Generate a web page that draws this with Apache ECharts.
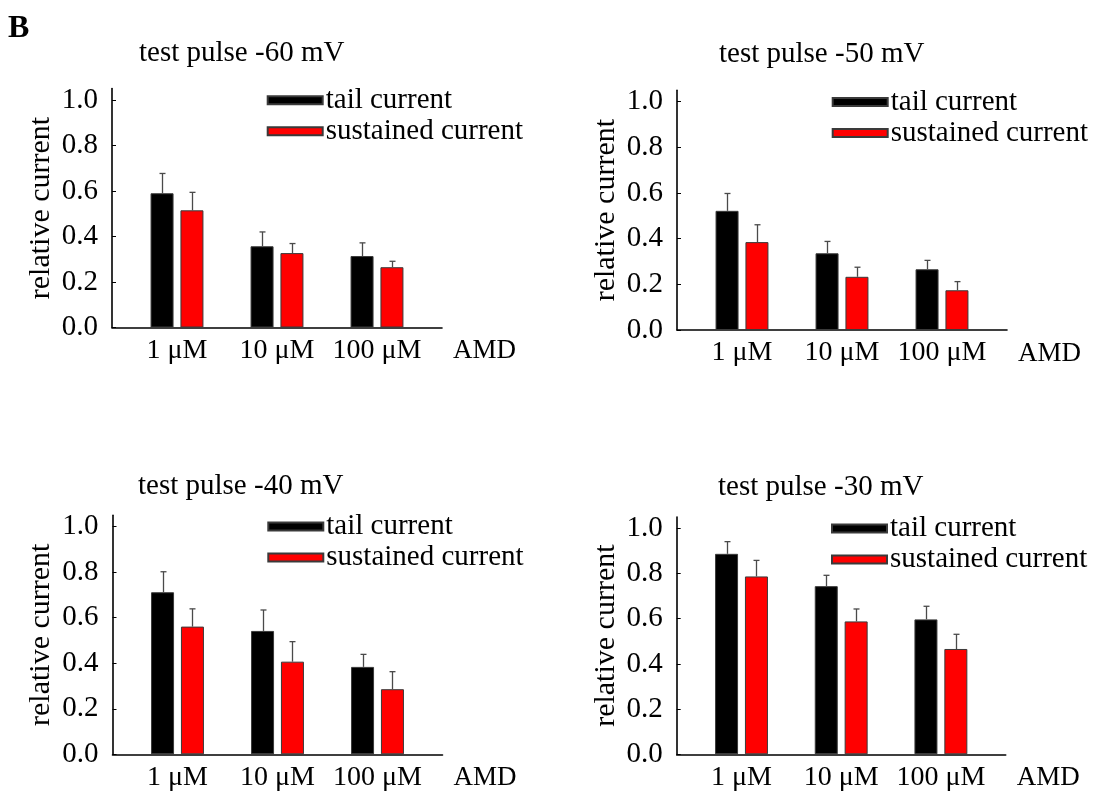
<!DOCTYPE html>
<html><head><meta charset="utf-8">
<script src="https://cdn.jsdelivr.net/npm/echarts@6/dist/echarts.min.js"></script>
<style>html,body{margin:0;padding:0;background:#fff}#c{width:1100px;height:797px}</style>
</head><body><div id="c"></div>
<script>
// ---- data ----
const categories = ['1 μM', '10 μM', '100 μM'];
const yTicks = [0, 0.2, 0.4, 0.6, 0.8, 1.0];
const panelTitles = ['test pulse -60 mV', 'test pulse -50 mV', 'test pulse -40 mV', 'test pulse -30 mV'];
const seriesNames = ['tail current', 'sustained current'];
const xAxisName = 'AMD';
const yAxisName = 'relative current';

const tail60 = [0.590, 0.357, 0.314], tail60Err = [0.087, 0.063, 0.058];
const sus60  = [0.515, 0.327, 0.265], sus60Err  = [0.079, 0.042, 0.026];
const tail50 = [0.522, 0.336, 0.266], tail50Err = [0.076, 0.052, 0.039];
const sus50  = [0.385, 0.233, 0.174], sus50Err  = [0.076, 0.042, 0.038];
const tail40 = [0.712, 0.542, 0.384], tail40Err = [0.090, 0.092, 0.055];
const sus40  = [0.561, 0.407, 0.286], sus40Err  = [0.078, 0.088, 0.077];
const tail30 = [0.887, 0.744, 0.597], tail30Err = [0.054, 0.048, 0.058];
const sus30  = [0.787, 0.588, 0.466], sus30Err  = [0.071, 0.055, 0.065];

const panelTail = [tail60, tail50, tail40, tail30];
const panelTailErr = [tail60Err, tail50Err, tail40Err, tail30Err];
const panelSus = [sus60, sus50, sus40, sus30];
const panelSusErr = [sus60Err, sus50Err, sus40Err, sus30Err];

// ---- layout ----
const FONT = 'Liberation Serif';
const grids = [
  {left: 112, top: 88.6, width: 330, height: 238.9},
  {left: 677, top: 90.3, width: 330, height: 239.7},
  {left: 112.5, top: 515.3, width: 330, height: 239},
  {left: 676.7, top: 517, width: 329, height: 237.3}
];
const titlePos = [{left: 139, top: 38.5}, {left: 719, top: 40}, {left: 138, top: 472}, {left: 718, top: 473}];
const legendPos = [{left: 266.7, top: 84.8}, {left: 831.7, top: 86.5}, {left: 267.3, top: 511}, {left: 831, top: 513}];
const BAR_W = 23, BAR_GAP = 0.30;
const OFF = (BAR_W + BAR_W * BAR_GAP) / 2;
const COLORS = ['#000000', '#ff0000'];

function errRender(offset) {
  return function (params, api) {
    const x = api.value(0), m = api.value(1), e = api.value(2);
    const p0 = api.coord([x, m]);
    const p1 = api.coord([x, m + e]);
    const cx = Math.round(p0[0] + offset) + 0.5;
    const st = {stroke: '#4a4a4a', lineWidth: 1.3};
    return {type: 'group', children: [
      {type: 'line', shape: {x1: cx, y1: p0[1], x2: cx, y2: p1[1]}, style: st},
      {type: 'line', shape: {x1: cx - 3, y1: p1[1], x2: cx + 3, y2: p1[1]}, style: st}
    ]};
  };
}

const option = {
  animation: false,
  backgroundColor: '#fff',
  textStyle: {fontFamily: FONT, color: '#000'},
  title: [{text: 'B', left: 8, top: 13, padding: 0,
           textStyle: {fontFamily: FONT, fontSize: 32, fontWeight: 'bold', color: '#000'}}]
    .concat(panelTitles.map((t, i) => ({
      text: t, left: titlePos[i].left, top: titlePos[i].top, padding: 0,
      textStyle: {fontFamily: FONT, fontSize: 29, fontWeight: 'normal', color: '#000'}
    }))),
  legend: grids.map((g, i) => ({
    data: seriesNames, orient: 'vertical', left: legendPos[i].left, top: legendPos[i].top,
    padding: 0, itemGap: 0, itemWidth: 55, itemHeight: 8, icon: 'rect',
    selectedMode: false,
    textStyle: {fontFamily: FONT, fontSize: 29, color: '#000', lineHeight: 31, padding: [0, 0, 0, -2]}
  })),
  grid: grids.map(g => ({left: g.left, top: g.top, width: g.width, height: g.height, containLabel: false})),
  xAxis: grids.map((g, i) => ({
    gridIndex: i, type: 'value', min: -0.65, max: 2.65,
    axisLine: {show: true, onZero: false, lineStyle: {color: '#000', width: 1.6}},
    axisTick: {show: false}, splitLine: {show: false},
    axisLabel: {customValues: [0, 1, 2], formatter: v => categories[Math.round(v)],
                fontFamily: FONT, fontSize: 28, color: '#000', margin: 9},
    name: xAxisName, nameLocation: 'end', nameGap: 11,
    nameTextStyle: {fontFamily: FONT, fontSize: 27, color: '#000', verticalAlign: 'top', padding: [10, 0, 0, 0]}
  })),
  yAxis: grids.map((g, i) => ({
    gridIndex: i, type: 'value', min: 0, max: 1.05,
    axisLine: {show: true, onZero: false, lineStyle: {color: '#000', width: 1.6}},
    axisTick: {show: true, inside: true, length: 4, customValues: yTicks, lineStyle: {color: '#000', width: 1}},
    splitLine: {show: false},
    axisLabel: {customValues: yTicks, formatter: v => v.toFixed(1),
                fontFamily: FONT, fontSize: 29, color: '#000', margin: 14},
    name: yAxisName, nameLocation: 'middle', nameGap: 56,
    nameTextStyle: {fontFamily: FONT, fontSize: 30, color: '#000'}
  })),
  series: []
};

grids.forEach((g, i) => {
  const means = [panelTail[i], panelSus[i]];
  const errs = [panelTailErr[i], panelSusErr[i]];
  means.forEach((arr, k) => {
    option.series.push({
      type: 'bar', name: seriesNames[k], xAxisIndex: i, yAxisIndex: i,
      barWidth: BAR_W, barGap: (BAR_GAP * 100) + '%',
      itemStyle: {color: COLORS[k], borderColor: '#3a3a3a', borderWidth: 1},
      data: arr.map((v, j) => [j, v])
    });
  });
  means.forEach((arr, k) => {
    option.series.push({
      type: 'custom', name: seriesNames[k] + ' error', xAxisIndex: i, yAxisIndex: i,
      renderItem: errRender(k === 0 ? -OFF : OFF), encode: {x: 0, y: 1}, z: 5,
      data: arr.map((v, j) => [j, v, errs[k][j]])
    });
  });
});

const chart = echarts.init(document.getElementById('c'), null, {renderer: 'canvas'});
chart.setOption(option);
</script></body></html>
